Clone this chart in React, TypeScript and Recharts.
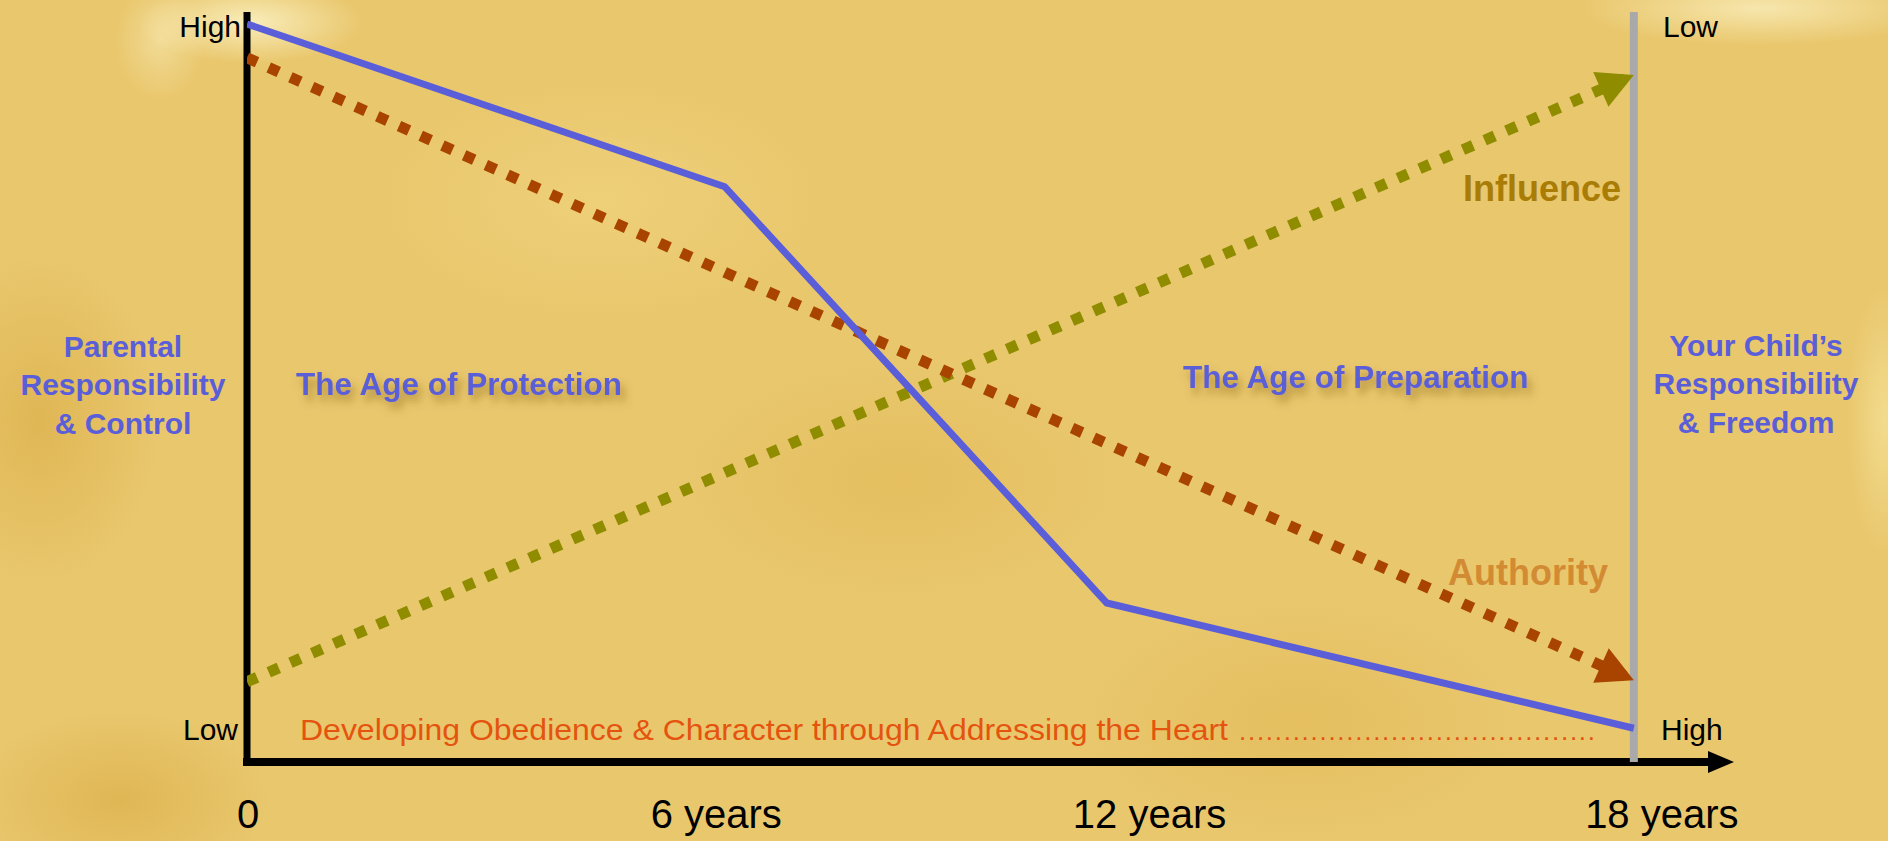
import { LineChart, Line, XAxis, YAxis, ReferenceLine, ReferenceDot } from "recharts";

// x = child's age in years, y = level (0 = low, 100 = high)
const ages = [0, 6, 12, 18];
const ageLabels = ["0", "6 years", "12 years", "18 years"];

const controlAges = [0, 6.2, 11.16, 18];
const controlLevels = [98.4, 76.7, 21.2, 4.5];

const authorityAges = [0, 18];
const authorityLevels = [93.9, 10.9];

const influenceAges = [0, 18];
const influenceLevels = [10.7, 91.6];

const axisEnd = 19.3;

const toRows = (xs: number[], ys: number[]) => xs.map((age, i) => ({ age, level: ys[i] }));

const controlData = toRows(controlAges, controlLevels);
const authorityData = toRows(authorityAges, authorityLevels);
const influenceData = toRows(influenceAges, influenceLevels);

const FONT = "'Liberation Sans', Arial, Helvetica, sans-serif";
const BLUE = "#5a5ed8";

// labels under the axis sit a little off the tick values in the original
const tickShift = [1, 7, -22, 28];

function AgeTick(props: any) {
	const { x, y, payload } = props;
	const i = ages.indexOf(payload.value);
	return (
		<text x={x + (tickShift[i] ?? 0)} y={y + 66} textAnchor="middle" fontFamily={FONT} fontSize={40} fill="#000">
			{ageLabels[i]}
		</text>
	);
}

function arrowDot(color: string, lastIndex: number) {
	return (props: any) => {
		const { cx, cy, index, points } = props;
		if (index !== lastIndex) return <g key={`d-${index}`} />;
		const p0 = points && points[0];
		const ang = p0 ? (Math.atan2(cy - p0.y, cx - p0.x) * 180) / Math.PI : 0;
		return (
			<polygon
				key={`d-${index}`}
				points="0,0 -36,-19 -36,19"
				transform={`translate(${cx},${cy}) rotate(${ang})`}
				fill={color}
			/>
		);
	};
}

const axisArrow = (p: any) => (
	<polygon points={`${p.cx},${p.cy} ${p.cx - 26},${p.cy - 11} ${p.cx - 26},${p.cy + 11}`} fill="#000" />
);

const bg = [
	"radial-gradient(ellipse 150px 55px at 250px 22px, rgba(252,244,200,0.85), rgba(252,244,200,0) 75%)",
	"radial-gradient(ellipse 60px 80px at 160px 40px, rgba(252,244,200,0.45), rgba(252,244,200,0) 75%)",
	"radial-gradient(ellipse 240px 50px at 1760px 8px, rgba(252,244,200,0.7), rgba(252,244,200,0) 75%)",
	"radial-gradient(ellipse 50px 180px at 1885px 420px, rgba(250,236,170,0.55), rgba(250,236,170,0) 75%)",
	"radial-gradient(ellipse 160px 220px at 40px 420px, rgba(214,166,60,0.5), rgba(214,166,60,0) 75%)",
	"radial-gradient(ellipse 200px 120px at 120px 800px, rgba(214,166,60,0.5), rgba(214,166,60,0) 75%)",
	"radial-gradient(ellipse 300px 160px at 900px 480px, rgba(220,175,70,0.35), rgba(220,175,70,0) 75%)",
	"radial-gradient(ellipse 300px 160px at 1300px 720px, rgba(220,175,70,0.35), rgba(220,175,70,0) 75%)",
	"radial-gradient(ellipse 300px 160px at 600px 200px, rgba(245,222,140,0.4), rgba(245,222,140,0) 75%)",
	"#e9c76d",
].join(",");

export default function App() {
	return (
		<div style={{ position: "absolute", left: 0, top: 0, width: 1888, height: 841, background: bg, overflow: "hidden" }}>
			<LineChart width={1888} height={841} margin={{ top: 12, right: 154, bottom: 0, left: 247 }}>
				<XAxis
					type="number"
					dataKey="age"
					domain={[0, axisEnd]}
					allowDataOverflow
					ticks={ages}
					interval={0}
					axisLine={false}
					tickLine={false}
					tickSize={0}
					tickMargin={0}
					height={79}
					tick={<AgeTick />}
				/>
				<YAxis type="number" domain={[0, 100]} allowDataOverflow hide />
				<ReferenceLine x={0} stroke="#000" strokeWidth={7} />
				<ReferenceLine
					segment={[{ x: 0, y: 0 }, { x: 18.96, y: 0 }]}
					stroke="#000"
					strokeWidth={8}
					strokeLinecap="square"
					ifOverflow="visible"
				/>
				<ReferenceDot x={axisEnd} y={0} ifOverflow="visible" shape={axisArrow} />
				<ReferenceLine x={18} stroke="#a9a9a9" strokeWidth={8} />
				<Line
					data={influenceData}
					dataKey="level"
					type="linear"
					stroke="#8f8c00"
					strokeWidth={11}
					strokeDasharray="11 12.7"
					dot={arrowDot("#8f8c00", influenceData.length - 1)}
					activeDot={false}
					isAnimationActive={false}
				/>
				<Line
					data={authorityData}
					dataKey="level"
					type="linear"
					stroke="#a84400"
					strokeWidth={11}
					strokeDasharray="11 12.8"
					dot={arrowDot("#a84400", authorityData.length - 1)}
					activeDot={false}
					isAnimationActive={false}
				/>
				<Line
					data={controlData}
					dataKey="level"
					type="linear"
					stroke={BLUE}
					strokeWidth={7}
					dot={false}
					activeDot={false}
					isAnimationActive={false}
				/>
			</LineChart>
			<svg width={1888} height={841} style={{ position: "absolute", left: 0, top: 0, pointerEvents: "none" }}>
				<defs>
					<filter id="soft" x="-10%" y="-40%" width="130%" height="200%">
						<feDropShadow dx={4} dy={7} stdDeviation={4} floodColor="#7a5510" floodOpacity={0.5} />
					</filter>
				</defs>
				<g fontFamily={FONT} fontSize={30} fill="#000">
					<text x={241} y={37} textAnchor="end">High</text>
					<text x={1663} y={37}>Low</text>
					<text x={238} y={740} textAnchor="end">Low</text>
					<text x={1661} y={740}>High</text>
				</g>
				<g fontFamily={FONT} fontWeight="bold" fontSize={30} fill={BLUE} textAnchor="middle">
					<text x={123} y={357}>Parental</text>
					<text x={123} y={395}>Responsibility</text>
					<text x={123} y={434}>&amp; Control</text>
					<text x={1756} y={356}>Your Child’s</text>
					<text x={1756} y={394}>Responsibility</text>
					<text x={1756} y={433}>&amp; Freedom</text>
				</g>
				<g fontFamily={FONT} fontWeight="bold" fontSize={31.5} fill={BLUE} filter="url(#soft)">
					<text x={296} y={395}>The Age of Protection</text>
					<text x={1183} y={388}>The Age of Preparation</text>
				</g>
				<text x={1463} y={201} fontFamily={FONT} fontWeight="bold" fontSize={36} fill="#a87c05">
					Influence
				</text>
				<text x={1448} y={585} fontFamily={FONT} fontWeight="bold" fontSize={36} fill="#d38b33">
					Authority
				</text>
				<text x={300} y={740} fontFamily={FONT} fontSize={30} fill="#e4540f" textLength={928} lengthAdjust="spacingAndGlyphs">
					Developing Obedience &amp; Character through Addressing the Heart
				</text>
				<text x={1239} y={740} fontFamily={FONT} fontSize={26} fill="#e4540f" textLength={356} lengthAdjust="spacing">
					{".".repeat(40)}
				</text>
			</svg>
		</div>
	);
}
